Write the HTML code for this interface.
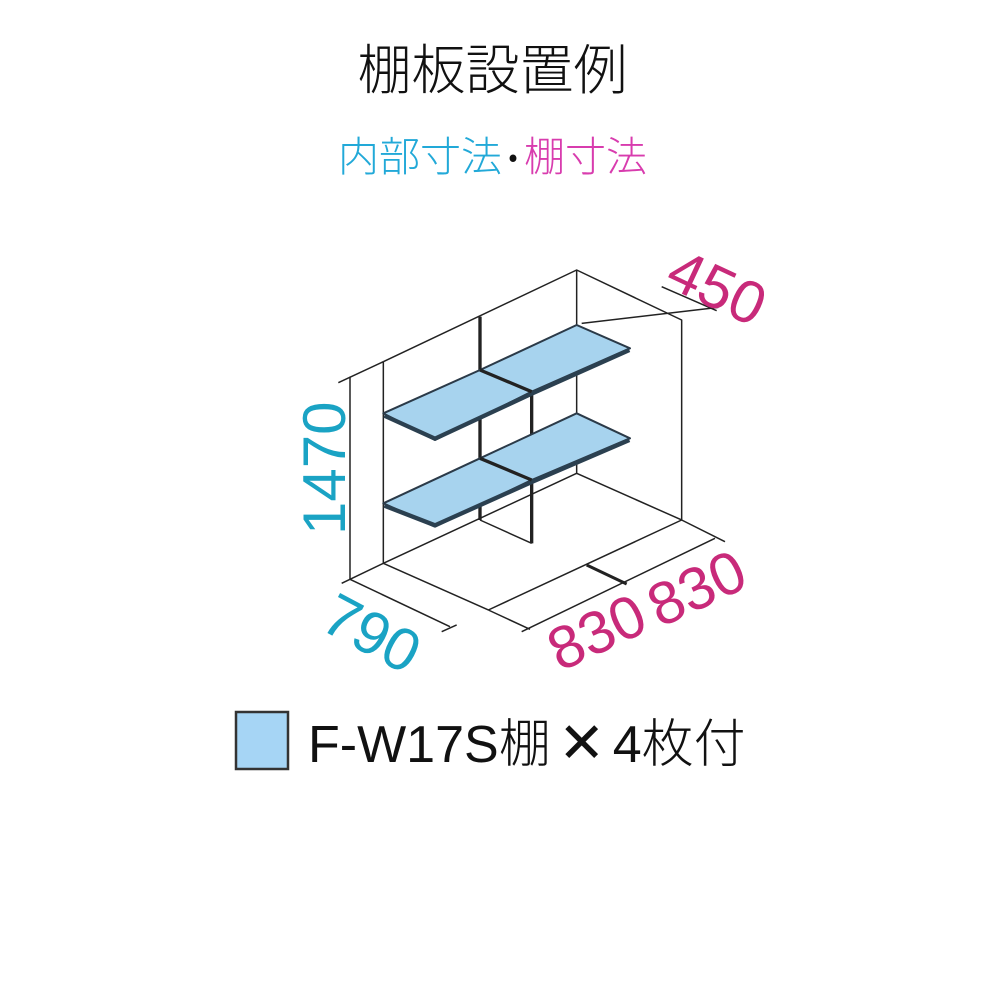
<!DOCTYPE html>
<html><head><meta charset="utf-8"><style>
html,body{margin:0;padding:0;background:#fff;}
#c{position:relative;width:1000px;height:1000px;overflow:hidden;font-family:"Liberation Sans","Noto Sans CJK JP",sans-serif;}
.t{position:absolute;white-space:nowrap;}
</style></head><body><div id="c">
<div class="t" style="left:0;width:985px;top:36px;text-align:center;font-size:54px;line-height:60px;color:#111;font-family:'Noto Sans CJK JP',sans-serif;font-weight:300;">棚板設置例</div>
<div class="t" style="left:0;width:985px;top:128px;text-align:center;font-size:41px;line-height:50px;font-family:'Noto Sans CJK JP',sans-serif;font-weight:300;"><span style="color:#22a9d8">内部寸法</span><span style="color:#111;display:inline-block;width:22px;text-align:center;font-size:30px;vertical-align:4px">•</span><span style="color:#d83cae">棚寸法</span></div>
<svg width="1000" height="1000" style="position:absolute;left:0;top:0">
<g transform="translate(300,240) scale(0.33333)" fill="none" stroke="#222" stroke-width="4.5" stroke-linejoin="round">
<polyline points="250,365 830,90 1145,240 1145,840"/>
<line x1="250" y1="365" x2="250" y2="970"/>
<line x1="830" y1="90" x2="830" y2="700"/>
<polyline points="250,970 830,700 1145,840"/>
<line x1="250" y1="970" x2="565" y2="1110"/>
<line x1="1145" y1="840" x2="565" y2="1110"/>
<line x1="150" y1="410" x2="150" y2="1020"/>
<line x1="115" y1="428" x2="250" y2="365"/>
<line x1="125" y1="1030" x2="250" y2="970"/>
<line x1="150" y1="1018" x2="450" y2="1160"/>
<line x1="425" y1="1175" x2="470" y2="1155"/>
<line x1="565" y1="1110" x2="690" y2="1168"/>
<line x1="665" y1="1175" x2="1245" y2="895"/>
<line x1="1145" y1="840" x2="1275" y2="905"/>
<line x1="860" y1="975" x2="980" y2="1032" stroke-width="9"/>
<line x1="845" y1="250" x2="1255" y2="202"/>
<line x1="1085" y1="140" x2="1250" y2="212"/>
<line x1="540" y1="230" x2="540" y2="840" stroke-width="10"/>
<line x1="695" y1="455" x2="695" y2="910" stroke-width="10"/>
<line x1="540" y1="840" x2="695" y2="910"/>
<g fill="#a7d3ee" stroke="#2b3a48" stroke-width="6">
<polygon points="540,655 830,520 990,595 695,720"/>
<polygon points="250,790 540,655 695,720 405,860"/>
<polygon points="540,390 830,255 990,325 695,455"/>
<polygon points="250,520 540,390 695,455 405,600"/>
</g>
<g stroke="#2b4050" stroke-width="13">
<polyline points="253,527 405,596 695,461 988,330"/>
<polyline points="253,797 405,856 695,726 988,600"/>
</g>
<line x1="540" y1="390" x2="695" y2="455" stroke-width="10"/>
<line x1="540" y1="655" x2="695" y2="720" stroke-width="10"/>
</g>
<g font-family="Liberation Sans, sans-serif" font-size="60">
<text x="0" y="0" fill="#1aa3c4" transform="translate(345,535) rotate(-90)">1470</text>
<text x="0" y="0" fill="#1aa3c4" transform="translate(318,628) rotate(28)">790</text>
<text x="0" y="0" fill="#c82a7a" transform="translate(560,672) rotate(-25)">830</text>
<text x="0" y="0" fill="#c82a7a" transform="translate(660,628) rotate(-25)">830</text>
<text x="0" y="0" fill="#c82a7a" transform="translate(663,285) rotate(25)">450</text>
</g>
<rect x="236" y="712" width="52" height="57" fill="#a6d5f5" stroke="#333" stroke-width="2.5"/>
</svg>
<div class="t" style="left:308px;top:710px;font-size:52px;line-height:60px;color:#111;">F-W17S<span style="font-family:'Noto Sans CJK JP',sans-serif;font-weight:300">棚</span><span style="display:inline-block;width:62px;text-align:center;font-size:56px">✕</span>4<span style="font-family:'Noto Sans CJK JP',sans-serif;font-weight:300">枚付</span></div>
</div></body></html>
